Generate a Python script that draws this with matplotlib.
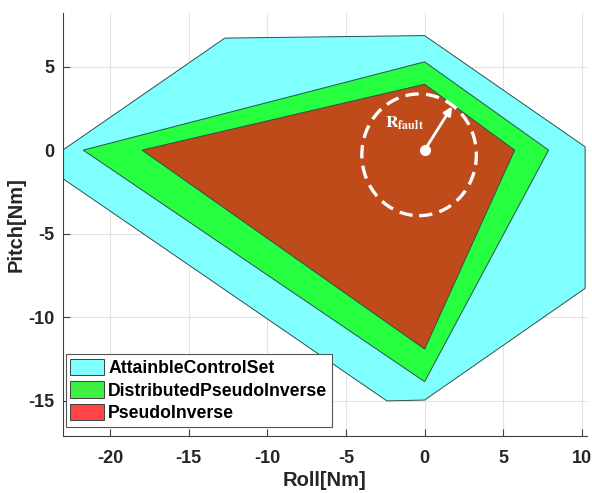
import matplotlib
matplotlib.use("Agg")
import matplotlib.pyplot as plt
from matplotlib.patches import Polygon, Patch, Ellipse

plt.rcParams["font.family"] = ["Liberation Sans", "DejaVu Sans"]
plt.rcParams["font.weight"] = "bold"
plt.rcParams["mathtext.fontset"] = "stix"
plt.rcParams["axes.unicode_minus"] = False

# polygon vertices (Roll, Pitch) in Nm
acs_roll = [-23.0, -12.7, 0.0, 10.2, 10.2, 0.0, -2.4, -23.0]
acs_pitch = [0.0, 6.7, 6.85, 0.2, -8.27, -14.95, -15.0, -1.7]

dpi_roll = [-21.7, 0.0, 7.88, 0.0]
dpi_pitch = [0.0, 5.28, 0.0, -13.85]

pi_roll = [-17.96, 0.0, 5.72, 0.0]
pi_pitch = [0.0, 3.94, 0.0, -11.9]

labels = ["AttainbleControlSet", "DistributedPseudoInverse", "PseudoInverse"]
fill_colors = ["#80FFFF", "#26FF40", "#BE4B19"]
legend_colors = ["#80FFFF", "#40F040", "#FF4545"]

# fault circle (drawn on the chart)
circle_center = (-0.35, -0.28)
circle_radius = 3.64
arrow_tip = (1.84, 2.75)

fig = plt.figure(figsize=(5.92, 4.93), dpi=100)
ax = fig.add_axes([0.106, 0.1156, 0.885, 0.858])

edge = "#2f4f4f"
for xs, ys, c in zip([acs_roll, dpi_roll, pi_roll], [acs_pitch, dpi_pitch, pi_pitch], fill_colors):
    ax.add_patch(Polygon(list(zip(xs, ys)), closed=True, facecolor=c,
                         edgecolor=edge, linewidth=0.7, zorder=2))

# dashed fault circle, radius arrow and label
ax.add_patch(Ellipse(circle_center, 2 * circle_radius, 2 * circle_radius,
                     fill=False, edgecolor="white", linewidth=2.4,
                     linestyle=(0, (4, 2.2)), zorder=4))
ax.annotate("", xy=arrow_tip, xytext=(0, 0),
            arrowprops=dict(arrowstyle="-|>", color="white", lw=2, mutation_scale=12),
            zorder=5)
ax.plot(0, 0, "o", color="white", markersize=7, zorder=6)
ax.text(-1.25, 1.6, r"$\mathbf{R}_{\mathbf{fault}}$", color="white", fontsize=12.5,
        ha="center", va="center", zorder=6)

ax.set_xlim(-23, 10.3)
ax.set_ylim(-17.1, 8.2)
ax.set_xticks([-20, -15, -10, -5, 0, 5, 10])
ax.set_yticks([-15, -10, -5, 0, 5])
ax.grid(True, color="#e3e3e3", linewidth=0.8, zorder=0)
ax.set_axisbelow(True)

for s in ["top", "right"]:
    ax.spines[s].set_visible(False)
for s in ["left", "bottom"]:
    ax.spines[s].set_color("#404040")
    ax.spines[s].set_linewidth(0.8)
ax.tick_params(direction="in", length=5, width=0.8, color="#404040",
               labelsize=13, labelcolor="#262626")
ax.tick_params(axis="x", pad=10)
ax.tick_params(axis="y", pad=6)
for lbl in ax.get_xticklabels() + ax.get_yticklabels():
    lbl.set_fontweight("bold")

ax.set_xlabel("Roll[Nm]", fontsize=14.5, fontweight="bold", color="#262626", labelpad=3)
ax.set_ylabel("Pitch[Nm]", fontsize=14.5, fontweight="bold", color="#262626", labelpad=2)

handles = [Patch(facecolor=c, edgecolor="#404040", linewidth=0.7) for c in legend_colors]
leg = ax.legend(handles, labels, loc="lower left", bbox_to_anchor=(0.006, 0.022),
                borderaxespad=0, fancybox=False, framealpha=1, edgecolor="#555555",
                prop={"size": 12.7, "weight": "bold"}, handlelength=1.9,
                handleheight=1.05, handletextpad=0.25, labelspacing=0.25,
                borderpad=0.25)
leg.get_frame().set_linewidth(0.8)

fig.savefig("out.png", dpi=100)
